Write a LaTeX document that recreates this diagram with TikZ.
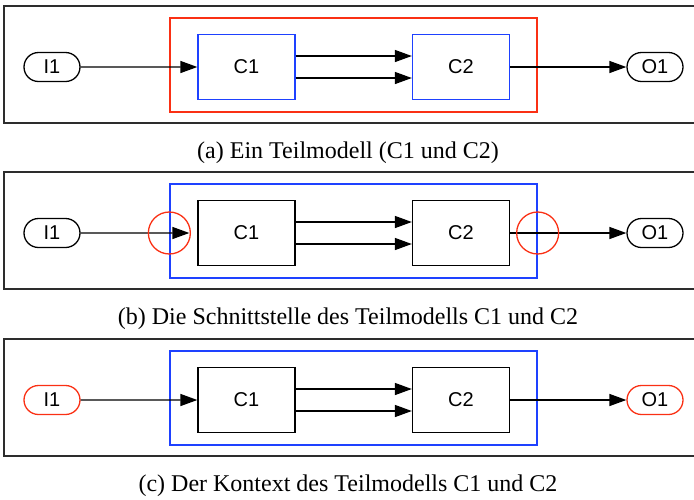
\documentclass[tikz,border=0pt]{standalone}
\usepackage{fontspec}
\setmainfont{Liberation Serif}
\newfontfamily\blockfont{Liberation Sans}
\usetikzlibrary{arrows.meta,shapes.misc}
\definecolor{hlred}{RGB}{250,48,20}
\definecolor{hlblue}{RGB}{30,65,255}
\definecolor{framegray}{RGB}{45,45,45}

% One panel: #1 centre line (y), #2 name prefix, #3 component colour,
% #4 group colour, #5 port colour, #6 caption, #7 gap before C1
\newcommand\drawpanel[7]{%
  \draw[panelframe] (4,{#1-61}) rectangle (700,{#1+56});
  \node[groupbox, draw=#4] (#2grp) at (353.5,{#1-2}) {};
  \node[comp, draw=#3] (#2C1) at (246.5,#1) {C1};
  \node[comp, draw=#3] (#2C2) at (461,#1) {C2};
  \node[port, draw=#5] (#2I1) at (52,#1) {I1};
  \node[port, draw=#5] (#2O1) at (655,#1) {O1};
  \draw[flow, shorten >=#7] (#2I1) -- (#2C1);
  \draw[flow] ([yshift=11pt]#2C1.east) -- ([yshift=11pt]#2C2.west);
  \draw[flow] ([yshift=-11pt]#2C1.east) -- ([yshift=-11pt]#2C2.west);
  \draw[flow] (#2C2) -- (#2O1);
  \node[captext] (#2cap) at (348,{#1+86}) {#6};
}

\begin{document}
\begin{tikzpicture}[x=1pt,y=-1pt,
  panelframe/.style={draw=framegray, line width=1.1pt},
  groupbox/.style={rectangle, line width=1.3pt, minimum width=367pt, minimum height=94pt, inner sep=0pt},
  comp/.style={rectangle, line width=1.3pt, minimum width=97pt, minimum height=65pt, inner sep=0pt,
    font=\blockfont\fontsize{20}{20}\selectfont},
  port/.style={rounded rectangle, line width=1.3pt, minimum width=56pt, minimum height=29pt, inner sep=0pt,
    font=\blockfont\fontsize{20}{20}\selectfont},
  flow/.style={line width=1.4pt, -{Triangle[length=17pt,width=12pt]}},
  ring/.style={circle, draw=hlred, line width=1.3pt, minimum size=42pt, inner sep=0pt},
  captext/.style={font=\fontsize{24}{24}\selectfont, inner sep=0pt}]
  \clip (0,0) rectangle (694,499);
  \path[use as bounding box] (0,0) rectangle (694,499);

  \drawpanel{67}{a}{hlblue}{hlred}{black}{(a) Ein Teilmodell (C1 und C2)}{0pt}
  \drawpanel{233}{b}{black}{hlblue}{black}{(b) Die Schnittstelle des Teilmodells C1 und C2}{8pt}
  \node[ring] (bringIn) at (bgrp.west |- bI1) {};
  \node[ring] (bringOut) at (bgrp.east |- bO1) {};
  \drawpanel{400}{c}{black}{hlblue}{hlred}{(c) Der Kontext des Teilmodells C1 und C2}{0pt}
\end{tikzpicture}
\end{document}
